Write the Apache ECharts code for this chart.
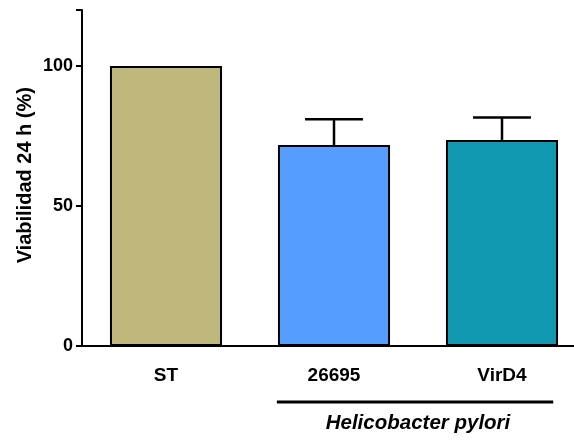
<!DOCTYPE html>
<html>
<head>
<meta charset="utf-8">
<script src="https://cdn.jsdelivr.net/npm/echarts@6/dist/echarts.min.js"></script>
<style>
html,body{margin:0;padding:0;background:#fff;}
#chart{width:574px;height:441px;}
</style>
</head>
<body>
<div id="chart"></div>
<script>
const categories = ['ST', '26695', 'VirD4'];
const means = [100, 71.8, 73.6];
const errors = [0, 9.2, 8.0];
const barColors = ['#C0B77D', '#559EFF', '#1199B2'];
const yTicks = [0, 50, 100];
const groupLabel = 'Helicobacter pylori';
const yTitle = 'Viabilidad 24 h (%)';

const FONT = '"Liberation Sans", Arial, sans-serif';
const chart = echarts.init(document.getElementById('chart'), null, {renderer: 'canvas'});

const option = {
  animation: false,
  backgroundColor: '#fff',
  grid: {left: 82, width: 504, top: 10, bottom: 95, containLabel: false, outerBoundsMode: 'none'},
  xAxis: {
    type: 'category',
    data: categories,
    boundaryGap: true,
    axisLine: {lineStyle: {color: '#000', width: 2}},
    axisTick: {alignWithLabel: true, length: 6, lineStyle: {color: '#000', width: 2}},
    axisLabel: {color: '#000', fontFamily: FONT, fontWeight: 'bold', fontSize: 19, margin: 20},
    z: 10
  },
  yAxis: {
    type: 'value',
    min: 0, max: 120, interval: 50,
    axisLine: {show: true, lineStyle: {color: '#000', width: 2}},
    axisTick: {show: true, length: 6, lineStyle: {color: '#000', width: 2}},
    axisLabel: {
      color: '#000', fontFamily: FONT, fontWeight: 'bold', fontSize: 18, margin: 9,
      formatter: v => yTicks.indexOf(v) >= 0 ? String(v) : ''
    },
    splitLine: {show: false},
    z: 10
  },
  series: [
    {
      type: 'bar',
      barWidth: '66.7%',
      data: means.map((v, i) => ({
        value: v,
        itemStyle: {color: barColors[i], borderColor: '#000', borderWidth: 2}
      }))
    },
    {
      type: 'custom',
      z: 5,
      data: means.map((v, i) => [i, v, errors[i]]),
      renderItem: function (params, api) {
        const idx = api.value(0), m = api.value(1), e = api.value(2);
        if (!e) return null;
        const base = api.coord([idx, m]);
        const top = api.coord([idx, m + e]);
        const half = api.size([1, 0])[0] * 0.345 / 2;
        const st = {stroke: '#000', lineWidth: 2.5};
        return {
          type: 'group',
          children: [
            {type: 'line', shape: {x1: base[0], y1: base[1], x2: top[0], y2: top[1]}, style: st},
            {type: 'line', shape: {x1: top[0] - half, y1: top[1], x2: top[0] + half, y2: top[1]}, style: st}
          ]
        };
      }
    }
  ]
};
chart.setOption(option);

// annotations positioned from the axis scales
const p1 = chart.convertToPixel({gridIndex: 0}, ['26695', 0]);
const p2 = chart.convertToPixel({gridIndex: 0}, ['VirD4', 0]);
const origin = chart.convertToPixel({gridIndex: 0}, ['ST', 61]);
const axisX = p1[0] - (p2[0] - p1[0]) * 1.5;
const band = p2[0] - p1[0];
const x1 = p1[0] - band * 0.34;
const x2 = p2[0] + band * 0.305;
const yLine = p1[1] + 56;
chart.setOption({
  graphic: [
    {type: 'line', shape: {x1: x1, y1: yLine, x2: x2, y2: yLine}, style: {stroke: '#000', lineWidth: 3}},
    {type: 'text', x: (p1[0] + p2[0]) / 2, y: yLine + 21,
     style: {text: groupLabel, fill: '#000', font: 'italic bold 20.5px ' + FONT, textAlign: 'center', textVerticalAlign: 'middle'}},
    {type: 'text', x: axisX - 57, y: origin[1], rotation: Math.PI / 2,
     style: {text: yTitle, fill: '#000', font: 'bold 20px ' + FONT, textAlign: 'center', textVerticalAlign: 'middle'}}
  ]
});
</script>
</body>
</html>
